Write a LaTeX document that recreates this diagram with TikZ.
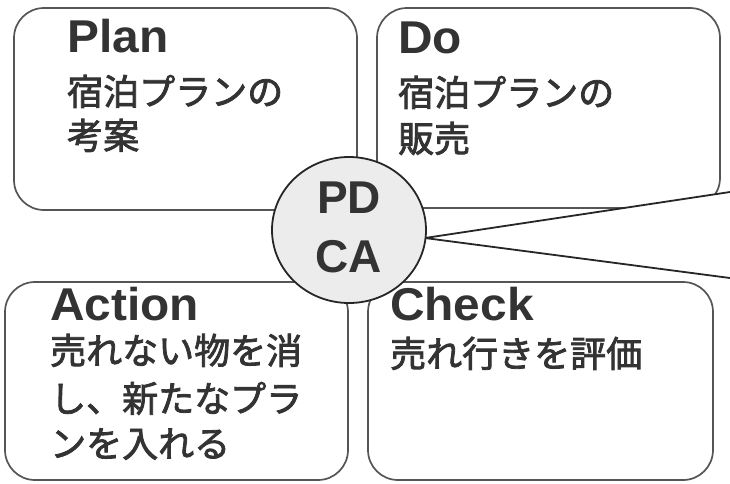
\documentclass[tikz,border=0pt]{standalone}
\usepackage{fontspec}
\setmainfont{Liberation Sans}
\newfontfamily\hdfont{Liberation Sans}[FakeStretch=1.04]
\newfontfamily\jpfont{Noto Sans CJK JP}[FakeBold=2.2]
\usetikzlibrary{shapes.geometric}
\definecolor{boxline}{HTML}{555555}
\definecolor{ink}{HTML}{333333}
\definecolor{circfill}{HTML}{ECECEC}
\tikzset{
  card/.style={draw=boxline, line width=1.7pt, rounded corners=30pt, fill=white},
  head/.style={anchor=base west, inner sep=0pt, text=ink, font=\hdfont\bfseries\fontsize{46}{50}\selectfont},
  jp/.style={anchor=base west, inner sep=0pt, text=ink, font=\jpfont\fontsize{36}{40}\selectfont},
  mid/.style={anchor=base, inner sep=0pt, text=ink, font=\bfseries\fontsize{46}{50}\selectfont},
  wedge/.style={draw=black!85, line width=1.8pt},
}
\begin{document}
\begin{tikzpicture}[x=1pt,y=-1pt]
\useasboundingbox (0,0) rectangle (730,483);
% boxes
\draw[card] (14,8) rectangle (357,210);
\draw[card] (377,8) rectangle (720,208);
\draw[card] (5,282) rectangle (348,480);
\draw[card] (368,282) rectangle (713,480);
\node[inner sep=0pt, minimum width=343pt, minimum height=202pt] (plan) at (185.5,109) {};
\node[inner sep=0pt, minimum width=343pt, minimum height=200pt] (do) at (548.5,108) {};
\node[inner sep=0pt, minimum width=343pt, minimum height=198pt] (act) at (176.5,381) {};
\node[inner sep=0pt, minimum width=345pt, minimum height=198pt] (chk) at (540.5,381) {};
% wedge
\coordinate (apex) at (425,238);
\coordinate (w1) at (730,192);
\coordinate (w2) at (730,278);
\fill[white] (apex) -- (w1) -- (w2) -- cycle;
\draw[wedge] (w1) -- (apex) -- (w2);
% circle
\node[ellipse, draw=black!85, line width=1.8pt, fill=circfill, minimum width=154pt, minimum height=146pt, inner sep=0pt] (pdca) at (349,230) {};
\node[mid] (pd) at (349,213) {PD};
\node[mid] (ca) at (349,272) {CA};
% texts
\node[head] (planh) at (67,52) {Plan};
\node[jp] (plan1) at (67,105) {宿泊プランの};
\node[jp] (plan2) at (67,149) {考案};
\node[head] (doh) at (398,53) {Do};
\node[jp] (do1) at (398,106) {宿泊プランの};
\node[jp] (do2) at (398,152) {販売};
\node[head] (acth) at (50,320) {Action};
\node[jp] (act1) at (50,364) {売れない物を消};
\node[jp] (act2) at (50,412) {し、新たなプラ};
\node[jp] (act3) at (50,457) {ンを入れる};
\node[head] (chkh) at (390,320) {Check};
\node[jp] (chk1) at (390,367) {売れ行きを評価};
\end{tikzpicture}
\end{document}
